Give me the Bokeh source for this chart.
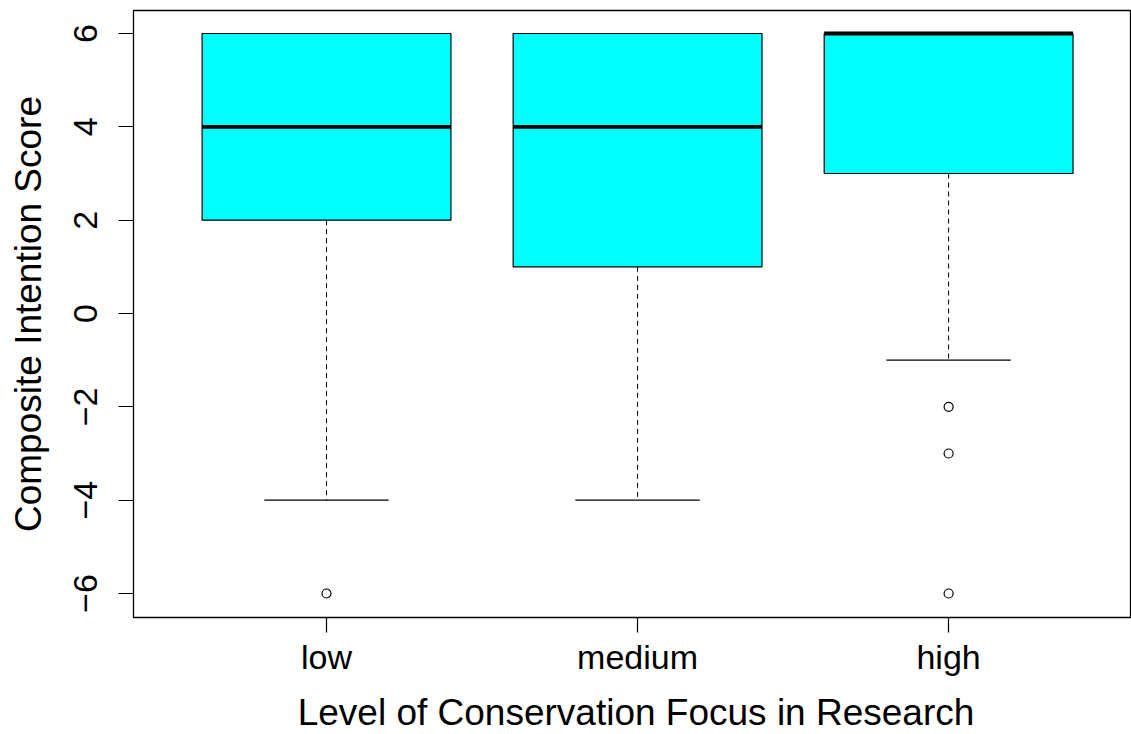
from bokeh.plotting import figure
from bokeh.models import Range1d, FixedTicker, Div
from bokeh.layouts import column
from bokeh.embed import file_html
from bokeh.resources import INLINE

# ---- data ----
categories = ["low", "medium", "high"]
positions = [1, 2, 3]
whisker_low = [-4, -4, -1]
q1 = [2, 1, 3]
median = [4, 4, 6]
q3 = [6, 6, 6]
whisker_high = [6, 6, 6]
outlier_group = [1, 3, 3, 3]
outlier_value = [-6, -2, -3, -6]
y_ticks = [-6, -4, -2, 0, 2, 4, 6]
x_title = "Level of Conservation Focus in Research"
y_title = "Composite Intention Score"

FONT = "Liberation Sans"
box_half = 0.4
cap_half = 0.2

p = figure(width=1131, height=694,
           x_range=Range1d(0.3794, 3.588), y_range=Range1d(-6.514, 6.493),
           output_backend="svg", toolbar_location=None,
           min_border_left=133, min_border_right=0,
           min_border_top=10, min_border_bottom=77)

p.background_fill_color = "white"
p.border_fill_color = "white"
p.outline_line_color = "black"
p.outline_line_width = 1.3
p.xgrid.visible = False
p.ygrid.visible = False

left = [x - box_half for x in positions]
right = [x + box_half for x in positions]
cap_l = [x - cap_half for x in positions]
cap_r = [x + cap_half for x in positions]

# whiskers (dashed)
p.segment(x0=positions, y0=q1, x1=positions, y1=whisker_low,
          line_color="black", line_width=1, line_dash="5 4")
p.segment(x0=positions, y0=q3, x1=positions, y1=whisker_high,
          line_color="black", line_width=1, line_dash="5 4")
# caps
p.segment(x0=cap_l, y0=whisker_low, x1=cap_r, y1=whisker_low,
          line_color="black", line_width=1.2)
p.segment(x0=cap_l, y0=whisker_high, x1=cap_r, y1=whisker_high,
          line_color="black", line_width=1.2)
# boxes
p.quad(left=left, right=right, bottom=q1, top=q3,
       fill_color="#00FFFF", line_color="black", line_width=1.2)
# medians
p.segment(x0=left, y0=median, x1=right, y1=median,
          line_color="black", line_width=3.8)
# outliers
p.scatter(x=outlier_group, y=outlier_value, marker="circle", size=9,
          fill_color=None, line_color="black", line_width=1.2)

# axes
for ax in (p.xaxis[0], p.yaxis[0]):
    ax.axis_line_color = None
    ax.major_tick_line_color = "black"
    ax.major_tick_line_width = 1.2
    ax.major_tick_out = 15
    ax.major_tick_in = 0
    ax.minor_tick_line_color = None
    ax.major_label_text_font = FONT
    ax.major_label_text_font_size = "34px"
    ax.major_label_text_color = "black"
    ax.axis_label_text_font = FONT
    ax.axis_label_text_font_size = "37px"
    ax.axis_label_text_font_style = "normal"
    ax.axis_label_text_color = "black"

p.xaxis.ticker = FixedTicker(ticks=positions)
p.xaxis.major_label_overrides = {pos: cat for pos, cat in zip(positions, categories)}
p.xaxis.major_label_standoff = 5

p.yaxis.ticker = FixedTicker(ticks=y_ticks)
p.yaxis.major_label_orientation = "vertical"
p.yaxis.axis_label = y_title
p.yaxis.major_label_standoff = 21
p.yaxis.axis_label_standoff = 23

# x-axis title (R-style, below the tick labels)
title_div = Div(text=x_title, width=990, height=40, margin=(0, 0, 0, 141),
                styles={"font-family": FONT, "font-size": "37px",
                        "line-height": "1", "text-align": "center",
                        "color": "black", "white-space": "nowrap"})

layout = column(p, title_div, spacing=0)

open("out.html", "w").write(file_html(layout, INLINE))
